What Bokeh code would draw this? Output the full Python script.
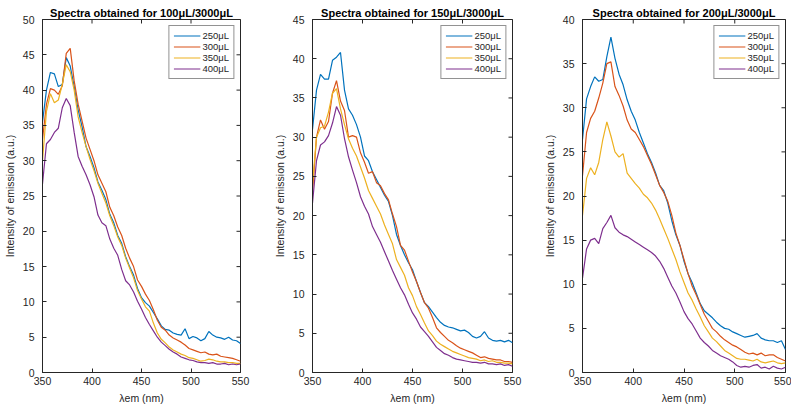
import math
from bokeh.plotting import figure
from bokeh.layouts import row
from bokeh.models import Range1d, FixedTicker, SingleIntervalTicker
from bokeh.embed import file_html
from bokeh.resources import INLINE

# ---------------- data ----------------
wavelength = list(range(350, 551, 4))

series_labels = ["250\u03bcL", "300\u03bcL", "350\u03bcL", "400\u03bcL"]
panel_titles = ["Spectra obtained for 100\u03bcL/3000\u03bcL",
                "Spectra obtained for 150\u03bcL/3000\u03bcL",
                "Spectra obtained for 200\u03bcL/3000\u03bcL"]
y_max = [50, 45, 40]
x_ticks = [350, 400, 450, 500, 550]

# panel 1 : 100 uL / 3000 uL
p1_250 = [35.5, 40.0, 42.5, 42.3, 40.5, 40.8, 44.6, 43.4, 40.5, 37.2, 34.8, 32.0, 30.6, 29.0, 27.0, 25.8, 24.5,
          22.4, 21.2, 19.4, 18.3, 16.4, 15.0, 13.8, 11.9, 10.6, 9.9, 9.4, 8.5, 7.6, 6.6, 6.1, 6.0, 5.6, 5.4, 5.3,
          6.2, 4.8, 5.1, 4.9, 4.5, 4.8, 5.8, 5.3, 5.0, 4.9, 4.7, 5.0, 4.6, 4.5, 4.1]
p1_300 = [33.0, 38.0, 40.2, 40.0, 39.4, 40.6, 45.2, 45.9, 41.3, 38.0, 35.6, 33.2, 31.6, 30.0, 28.0, 26.8, 25.6,
          23.4, 22.2, 20.6, 19.4, 17.6, 16.2, 15.0, 13.1, 12.2, 11.1, 10.2, 8.9, 7.4, 6.4, 6.0, 5.3, 4.9, 4.6, 4.3,
          3.9, 3.4, 3.2, 3.0, 2.8, 2.9, 2.6, 2.5, 2.6, 2.3, 2.2, 2.1, 2.0, 1.8, 1.6]
p1_350 = [30.0, 37.0, 39.5, 38.2, 38.6, 40.8, 43.6, 42.6, 40.0, 36.2, 34.0, 32.0, 30.2, 28.6, 26.8, 25.4, 24.0,
          22.2, 20.8, 19.2, 18.0, 16.2, 14.8, 13.4, 11.6, 10.4, 9.3, 8.7, 7.0, 5.6, 4.7, 4.2, 3.6, 3.2, 2.9, 2.6,
          2.4, 2.1, 2.0, 1.8, 1.6, 1.7, 1.9, 1.8, 1.6, 1.5, 1.5, 1.4, 1.4, 1.3, 1.3]
p1_400 = [26.7, 32.4, 33.0, 34.0, 34.6, 37.5, 38.8, 37.8, 34.0, 30.6, 29.2, 28.0, 26.6, 24.9, 22.3, 21.2, 20.8,
          18.9, 17.6, 16.6, 14.6, 13.0, 12.4, 11.4, 10.1, 9.0, 7.8, 6.8, 5.9, 5.0, 4.3, 3.8, 3.3, 2.9, 2.6, 2.2,
          2.0, 1.8, 1.7, 1.5, 1.4, 1.4, 1.3, 1.4, 1.2, 1.2, 1.3, 1.1, 1.2, 1.1, 1.2]

# panel 2 : 150 uL / 3000 uL
p2_250 = [31.0, 36.0, 38.0, 37.4, 37.4, 39.8, 40.2, 40.8, 36.0, 33.6, 32.8, 31.6, 30.0, 27.6, 27.0, 25.6, 24.6,
          23.6, 22.6, 21.8, 20.0, 17.6, 16.2, 15.0, 14.0, 13.1, 11.6, 10.2, 8.9, 8.4, 7.7, 7.0, 6.4, 6.0, 5.8, 5.7,
          5.5, 5.3, 5.4, 5.1, 4.6, 4.4, 4.6, 5.2, 4.4, 4.1, 4.0, 4.1, 3.9, 4.1, 3.8]
p2_300 = [23.0, 30.0, 32.2, 31.0, 32.0, 35.6, 37.2, 34.6, 33.4, 30.0, 30.2, 30.0, 28.0, 26.8, 25.4, 25.6, 24.2,
          23.8, 22.8, 22.0, 20.2, 18.6, 16.2, 15.6, 14.2, 12.8, 11.6, 10.2, 8.9, 8.2, 7.0, 5.7, 5.1, 4.6, 4.1, 3.8,
          3.4, 3.1, 2.9, 2.7, 2.5, 2.2, 1.9, 2.0, 1.8, 1.7, 1.6, 1.6, 1.4, 1.4, 1.3]
p2_350 = [24.0, 30.0, 31.2, 31.4, 33.2, 35.6, 36.2, 33.6, 31.6, 29.8, 28.6, 27.6, 26.2, 24.8, 23.2, 22.2, 21.2,
          20.2, 18.8, 17.6, 16.4, 14.4, 13.4, 12.4, 10.8, 9.8, 8.4, 7.4, 6.3, 5.3, 4.7, 4.0, 3.6, 3.3, 3.0, 2.7,
          2.5, 2.3, 2.1, 1.9, 1.8, 1.7, 1.5, 1.6, 1.4, 1.5, 1.3, 1.3, 1.2, 1.2, 1.1]
p2_400 = [21.6, 27.0, 29.0, 29.4, 30.2, 31.8, 33.9, 32.8, 29.8, 27.5, 25.8, 24.2, 22.4, 21.2, 20.2, 18.6, 17.6,
          16.6, 15.4, 14.2, 13.0, 11.9, 10.8, 9.9, 8.7, 7.6, 6.8, 5.8, 5.2, 4.6, 3.9, 3.2, 2.8, 2.4, 2.2, 1.9,
          1.7, 1.6, 1.5, 1.4, 1.3, 1.3, 1.2, 1.3, 1.1, 1.1, 1.0, 1.1, 0.9, 1.0, 0.8]

# panel 3 : 200 uL / 3000 uL
p3_250 = [26.4, 31.0, 32.4, 33.5, 33.0, 33.2, 35.8, 38.0, 35.6, 33.8, 32.6, 30.9, 29.6, 28.6, 27.2, 26.0, 24.8,
          23.8, 22.6, 21.2, 20.6, 19.2, 17.2, 15.6, 14.4, 12.6, 11.2, 10.2, 9.0, 7.8, 7.0, 6.6, 6.2, 5.7, 5.3, 5.0,
          4.9, 4.6, 4.4, 4.2, 4.0, 4.1, 4.2, 4.4, 3.9, 3.7, 3.6, 3.6, 3.4, 3.6, 2.6]
p3_300 = [22.3, 27.2, 28.8, 29.6, 31.1, 32.8, 35.0, 35.2, 32.4, 31.4, 30.2, 28.6, 27.6, 27.2, 26.4, 25.6, 24.6,
          23.6, 22.4, 21.2, 20.4, 19.4, 17.8, 15.8, 14.4, 12.8, 11.2, 9.8, 8.8, 7.7, 6.6, 5.8, 5.0, 4.6, 4.1, 3.7,
          3.4, 3.1, 2.9, 2.6, 2.3, 2.1, 2.2, 2.0, 2.2, 1.9, 2.0, 2.0, 1.7, 1.5, 1.3]
p3_350 = [17.8, 22.0, 23.2, 22.4, 23.8, 26.4, 28.4, 26.8, 25.0, 24.4, 24.8, 22.6, 22.0, 21.4, 20.9, 20.2, 19.8,
          19.2, 18.4, 17.4, 16.3, 15.2, 14.0, 12.8, 11.4, 10.2, 9.0, 8.2, 7.2, 6.3, 5.3, 4.6, 3.9, 3.5, 3.0, 2.5,
          2.2, 1.9, 1.6, 1.5, 1.5, 1.4, 1.3, 1.5, 1.2, 1.1, 1.2, 1.3, 1.1, 1.0, 1.1]
p3_400 = [10.7, 14.0, 15.0, 15.2, 14.6, 16.3, 17.0, 17.8, 16.4, 15.9, 15.6, 15.4, 15.1, 14.8, 14.5, 14.2, 13.9,
          13.6, 13.2, 12.6, 11.8, 10.8, 9.8, 9.0, 8.0, 6.9, 6.1, 5.5, 4.7, 3.9, 3.4, 3.0, 2.5, 2.2, 1.9, 1.7,
          1.5, 1.2, 0.8, 0.6, 0.7, 0.6, 0.8, 0.9, 0.5, 0.6, 0.4, 0.7, 0.5, 0.4, 0.6]

panel_data = [[p1_250, p1_300, p1_350, p1_400],
              [p2_250, p2_300, p2_350, p2_400],
              [p3_250, p3_300, p3_350, p3_400]]

# ---------------- style ----------------
FONT = "Liberation Sans"
AXC = "#262626"
COLORS = ["#0072BD", "#D95319", "#EDB120", "#7E2F8E"]


def style_axis(ax):
    ax.axis_line_color = AXC
    ax.major_tick_line_color = AXC
    ax.major_tick_in = 4
    ax.major_tick_out = 0
    ax.minor_tick_line_color = None
    ax.major_label_text_font = FONT
    ax.major_label_text_color = AXC
    ax.major_label_text_font_size = "10.5px"
    ax.major_label_standoff = 4
    ax.axis_label_text_font = FONT
    ax.axis_label_text_color = AXC
    ax.axis_label_text_font_style = "normal"
    ax.axis_label_text_font_size = "10.5px"
    ax.axis_label_standoff = 4


def make_panel(i, width, left, right):
    ymax = y_max[i]
    y_ticks = list(range(0, ymax + 1, 5))
    p = figure(width=width, height=406, x_range=Range1d(350, 550), y_range=Range1d(0, ymax),
               output_backend="svg", toolbar_location=None,
               min_border_left=left, min_border_right=right, min_border_top=19, min_border_bottom=31)
    p.outline_line_color = AXC
    p.outline_line_width = 1
    p.grid.visible = False
    p.background_fill_color = "white"
    p.border_fill_color = "white"

    p.title.text = panel_titles[i]
    p.title.text_font = FONT
    p.title.text_font_size = "11px"
    p.title.text_font_style = "bold"
    p.title.text_color = "black"
    p.title.align = "center"
    p.title.standoff = 2

    p.xaxis.ticker = FixedTicker(ticks=x_ticks)
    p.yaxis.ticker = SingleIntervalTicker(interval=5)
    p.xaxis.axis_label = "\u03bbem (nm)"
    p.yaxis.axis_label = "Intensity of emission (a.u.)"
    style_axis(p.xaxis[0])
    style_axis(p.yaxis[0])

    # inward ticks on the top and right edges of the box (outer half clipped by the frame)
    p.scatter(x_ticks, [ymax] * len(x_ticks), marker="dash", size=8, angle=math.pi / 2,
              line_color=AXC, line_width=1)
    p.scatter([550] * len(y_ticks), y_ticks, marker="dash", size=8, angle=0,
              line_color=AXC, line_width=1)

    for k in range(4):
        p.line(wavelength, panel_data[i][k], line_color=COLORS[k], line_width=1.2,
               legend_label=series_labels[k])

    lg = p.legend[0]
    lg.location = "top_right"
    lg.margin = 6
    lg.padding = 4
    lg.spacing = 0
    lg.label_height = 11
    lg.glyph_height = 11
    lg.glyph_width = 27
    lg.label_standoff = 2
    lg.label_text_font = FONT
    lg.label_text_font_size = "9.5px"
    lg.label_text_color = AXC
    lg.border_line_color = AXC
    lg.border_line_width = 1
    lg.background_fill_color = "white"
    lg.background_fill_alpha = 1
    return p


p1 = make_panel(0, 270, 33, 30)
p2 = make_panel(1, 270, 35, 28)
p3 = make_panel(2, 251, 38, 6)

layout = row(p1, p2, p3)
open("out.html", "w").write(file_html(layout, INLINE))
